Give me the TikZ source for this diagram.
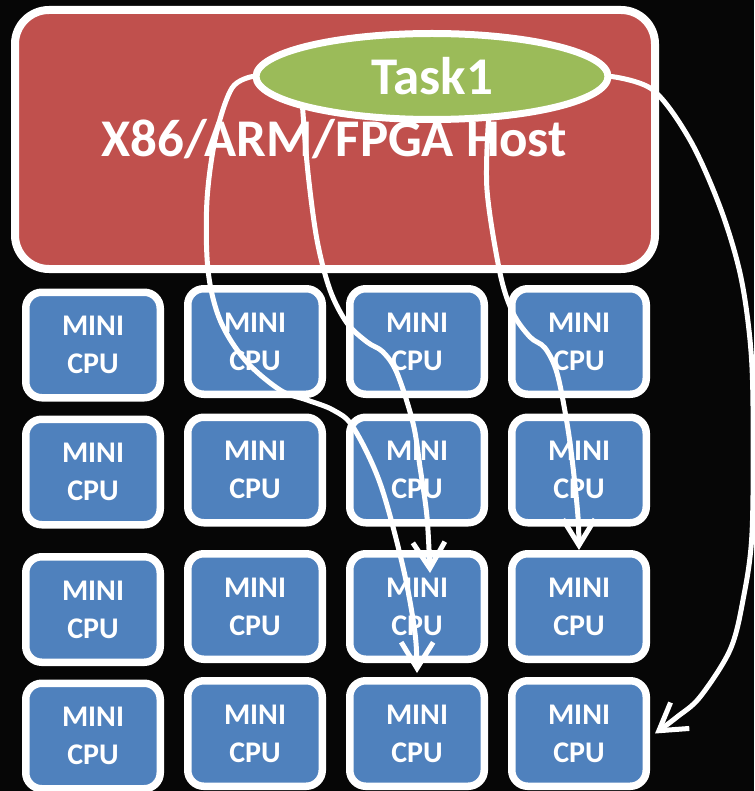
\documentclass[tikz,border=0pt]{standalone}
\usepackage{fontspec}
\setmainfont{Carlito}
\usetikzlibrary{arrows.meta,shapes.geometric}
\definecolor{bg}{RGB}{6,6,6}
\definecolor{hostred}{RGB}{192,80,77}
\definecolor{taskgreen}{RGB}{155,187,89}
\definecolor{cpublue}{RGB}{79,129,189}
\pgfdeclarelayer{bottom}
\pgfdeclarelayer{middle}
\pgfsetlayers{bottom,middle,main}
\begin{document}
\begin{tikzpicture}[x=1pt,y=-1pt,
  hostbox/.style={draw=white, line width=8pt, fill=hostred, rounded corners=34pt,
    minimum width=640pt, minimum height=259pt, inner sep=0pt},
  hosttext/.style={text=white, inner sep=0pt, font=\fontsize{53}{60}\selectfont\bfseries},
  tasknode/.style={ellipse, draw=white, line width=7pt, fill=taskgreen,
    minimum width=352pt, minimum height=86pt, inner sep=0pt, text=white,
    font=\fontsize{53}{60}\selectfont\bfseries},
  cpu/.style={draw=white, line width=7.5pt, fill=cpublue, rounded corners=16pt,
    minimum width=134.5pt, minimum height=105.5pt, inner sep=0pt, text=white,
    align=center, font=\fontsize{30}{38}\selectfont\bfseries},
  flow/.style={draw=white, line width=5pt, line cap=round, line join=round,
    -{Straight Barb[length=26pt,width=32pt]}},
]
\useasboundingbox (0,0) rectangle (754,791);
\begin{pgfonlayer}{bottom}
\fill[bg] (0,0) rectangle (754,791);
\node[hostbox] (host) at (335,139.5) {};
\node[hosttext, anchor=base] (hostlabel) at (334,157) {X86/ARM/FPGA Host};
\foreach \r/\y in {1/345,2/472,3/609.5,4/736}
  \node[cpu] (c\r1) at (93,\y) {MINI\\CPU};
\foreach \r/\y in {1/341.5,2/470,3/606.5,4/733.5}
  \foreach \c/\x in {2/255,3/417,4/579}
    \node[cpu] (c\r\c) at (\x,\y) {MINI\\CPU};
\end{pgfonlayer}

\node[tasknode] (task) at (432,76.5) {Task1};

\begin{pgfonlayer}{middle}
\draw[flow] plot[smooth, tension=0.55] coordinates {(task.west) (232,88) (216,135) (207,200)
  (208,270) (220,320) (245,360) (280,390) (307,400) (333,410) (353,427) (380,483) (403,567)
  (415,633) ([yshift=4pt]c43.north)};
\draw[flow] plot[smooth, tension=0.55] coordinates {(task.194) (308,173) (317,240) (330,290)
  (347,323) (367,342) (383,352) (397,373) (413,423) (420,467) (427,517)
  ([xshift=13pt,yshift=-23pt]c33.north)};
\draw[flow] plot[smooth, tension=0.55] coordinates {(task.322) (487,190) (500,273) (513,313)
  (530,337) (545,348) (557,373) (567,423) (573,467) (578,517) (c34.north)};
\draw[flow] plot[smooth, tension=0.55] coordinates {(task.east) (653,90) (690,140) (720,207)
  (740,273) (750,340) (753,407) (752,533) (743,600) (730,650) (700,697) (677,717)
  ([xshift=5pt]c44.east)};
\end{pgfonlayer}
\end{tikzpicture}
\end{document}
